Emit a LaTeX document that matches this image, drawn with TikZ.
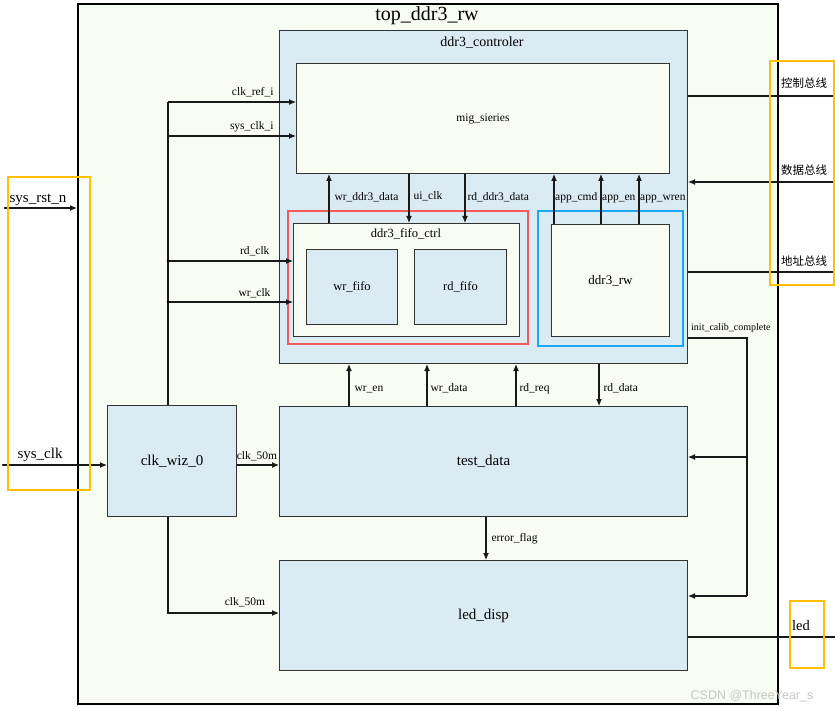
\documentclass[tikz,border=0pt]{standalone}
\usepackage{fontspec}
\setmainfont{Liberation Serif}
\newfontfamily\cjk{Noto Sans CJK SC}
\newfontfamily\wmfont{Liberation Sans}
\usetikzlibrary{arrows.meta}
\definecolor{bgg}{HTML}{F8FDF3}
\definecolor{lblue}{HTML}{DBEBF3}
\definecolor{hred}{HTML}{F55A5A}
\definecolor{hblue}{HTML}{19A9F2}
\definecolor{horange}{HTML}{FFC000}
\definecolor{edge}{HTML}{333333}
\begin{document}
\begin{tikzpicture}[x=1pt,y=-1pt,
  box/.style={draw=edge, line width=1pt, anchor=north west, inner sep=0pt},
  gbox/.style={box, fill=bgg},
  bbox/.style={box, fill=lblue},
  hl/.style={draw=#1, line width=2pt, anchor=north west, inner sep=0pt},
  arr/.style={line width=1.1pt, draw=black!90, -{Latex[length=7pt,width=6pt]}},
  wire/.style={line width=1.1pt, draw=black!90},
  fs/.style={font=\fontsize{11.5}{12}\selectfont},
  fx/.style={font=\fontsize{10}{11}\selectfont},
  fm/.style={font=\fontsize{12.5}{14}\selectfont},
  fl/.style={font=\fontsize{15}{17}\selectfont},
  fc/.style={font=\cjk\fontsize{11.5}{12}\selectfont},
  jdot/.style={circle, fill=black, inner sep=0pt, minimum size=2.8pt}
]
\useasboundingbox (0,0) rectangle (835,711);
\fill[white] (0,0) rectangle (835,711);

% outer module
\node[gbox, draw=black, line width=1.6pt, minimum width=700pt, minimum height=700pt] (outer) at (77,3) {};
\node[font=\fontsize{20}{22}\selectfont] (title) at (427,16) {top\_ddr3\_rw};

% ddr3 controller
\node[bbox, minimum width=408pt, minimum height=333pt] (ctrl) at (279,30) {};
\node[font=\fontsize{14}{16}\selectfont] (ctrllbl) at (482,43) {ddr3\_controler};
\node[gbox, fs, minimum width=373pt, minimum height=110pt] (mig) at (296,63) {mig\_sieries};

% highlight boxes
\node[hl=hred, minimum width=240pt, minimum height=133pt] (redbox) at (287,210) {};
\node[hl=hblue, minimum width=145pt, minimum height=135pt] (bluebox) at (537,210) {};

\node[gbox, minimum width=226pt, minimum height=113pt] (fifoctrl) at (293,223) {};
\node[fm] (fifolbl) at (406,234) {ddr3\_fifo\_ctrl};
\node[bbox, fm, minimum width=91pt, minimum height=75pt] (wrfifo) at (306,249) {wr\_fifo};
\node[bbox, fm, minimum width=92pt, minimum height=75pt] (rdfifo) at (414,249) {rd\_fifo};
\node[gbox, font=\fontsize{13}{15}\selectfont, minimum width=118pt, minimum height=112pt] (ddr3rw) at (551,224) {ddr3\_rw};

% other modules
\node[bbox, fl, minimum width=129pt, minimum height=111pt] (clkwiz) at (107,405) {clk\_wiz\_0};
\node[bbox, fl, minimum width=408pt, minimum height=110pt] (test) at (279,406) {test\_data};
\node[bbox, fl, minimum width=408pt, minimum height=110pt] (led) at (279,560) {led\_disp};

% clock distribution
\coordinate (v1) at (168,102);
\draw[wire] (168,0 |- clkwiz.north) -- (v1);
\draw[arr] (v1) -- (v1 -| mig.west);
\draw[arr] (168,136) -- (168,136 -| mig.west);
\draw[arr] (168,261) -- (168,261 -| fifoctrl.west);
\draw[arr] (168,302) -- (168,302 -| fifoctrl.west);
\node[jdot] (j1) at (168,261) {};
\node[jdot] (j2) at (168,302) {};
\node[fs, anchor=base east] (lclkref) at (277,96) {clk\_ref\_i};
\node[fs, anchor=base east] (lsysclki) at (277,130) {sys\_clk\_i};
\node[fs, anchor=base east] (lrdclk) at (273,255) {rd\_clk};
\node[fs, anchor=base east] (lwrclk) at (274,296) {wr\_clk};

% mig <-> fifo / rw
\draw[arr] (329,0 |- fifoctrl.north) -- (329,0 |- mig.south);
\draw[arr] (409,0 |- mig.south) -- (409,0 |- fifoctrl.north);
\draw[arr] (465,0 |- mig.south) -- (465,0 |- fifoctrl.north);
\draw[arr] (554,0 |- ddr3rw.north) -- (554,0 |- mig.south);
\draw[arr] (601,0 |- ddr3rw.north) -- (601,0 |- mig.south);
\draw[arr] (639,0 |- ddr3rw.north) -- (639,0 |- mig.south);
\node[fs, anchor=base west] (lwrddr) at (331,201) {wr\_ddr3\_data};
\node[fs, anchor=base west] (luiclk) at (410,200) {ui\_clk};
\node[fs, anchor=base west] (lrdddr) at (464,201) {rd\_ddr3\_data};
\node[fs, anchor=base west, inner xsep=0pt] (lappcmd) at (555,201) {app\_cmd};
\node[fs, anchor=base west, inner xsep=0pt] (lappen) at (602,201) {app\_en};
\node[fs, anchor=base west, inner xsep=0pt] (lappwren) at (640,201) {app\_wren};

% test_data <-> controller
\draw[arr] (349,0 |- test.north) -- (349,0 |- ctrl.south);
\draw[arr] (427,0 |- test.north) -- (427,0 |- ctrl.south);
\draw[arr] (516,0 |- test.north) -- (516,0 |- ctrl.south);
\draw[arr] (599,0 |- ctrl.south) -- (599,0 |- test.north);
\node[fs, anchor=base west] (lwren) at (351,391) {wr\_en};
\node[fs, anchor=base west] (lwrdata) at (427,391) {wr\_data};
\node[fs, anchor=base west] (lrdreq) at (516,391) {rd\_req};
\node[fs, anchor=base west] (lrddata) at (600,391) {rd\_data};

\draw[arr] (486,0 |- test.south) -- (486,0 |- led.north);
\node[fs, anchor=base west] (lerr) at (488,541) {error\_flag};

% clk_wiz outputs
\draw[arr] (clkwiz.east |- 0,465) -- (test.west |- 0,465);
\node[fs] (l50a) at (257,456) {clk\_50m};
\draw[arr] (168,0 |- clkwiz.south) -- (168,613) -- (led.west |- 0,613);
\node[fs] (l50b) at (245,602) {clk\_50m};

% init_calib_complete
\coordinate (ic) at (747,338);
\draw[wire] (ctrl.east |- ic) -- (ic) -- (747,596);
\draw[arr] (747,457) -- (test.east |- 0,457);
\draw[arr] (747,596) -- (led.east |- 0,596);
\node[fx, anchor=base west, inner xsep=0pt] (lic) at (691,330) {init\_calib\_complete};

% external ports
\draw[arr] (5,208) -- (outer.west |- 0,208);
\node[jdot, minimum size=2.2pt] (p1) at (5,208) {};
\node[font=\fontsize{15}{17}\selectfont, anchor=base] (lrst) at (38,203) {sys\_rst\_n};
\draw[arr] (3,465) -- (clkwiz.west |- 0,465);
\node[jdot, minimum size=2.2pt] (p2) at (3,465) {};
\node[font=\fontsize{15}{17}\selectfont, anchor=base] (lsysclk) at (40,458) {sys\_clk};

\draw[wire] (ctrl.east |- 0,96) -- (835,96);
\draw[arr] (835,182) -- (ctrl.east |- 0,182);
\draw[wire] (ctrl.east |- 0,272) -- (835,272);
\node[fc] (lctl) at (804,83) {控制总线};
\node[fc] (ldat) at (804,170) {数据总线};
\node[fc] (laddr) at (804,261) {地址总线};

\draw[wire] (led.east |- 0,637) -- (835,637);
\node[font=\fontsize{14.5}{16}\selectfont, anchor=base west, inner xsep=0pt] (lled) at (792,630) {led};

% orange highlights
\node[hl=horange, minimum width=82pt, minimum height=313pt] (orl) at (7,176) {};
\node[hl=horange, minimum width=64pt, minimum height=224pt] (orr) at (769,60) {};
\node[hl=horange, minimum width=34pt, minimum height=67pt] (orled) at (789,600) {};

% watermark
\node[font=\wmfont\fontsize{12.5}{14}\selectfont, text=black!22] (wm) at (752,696) {CSDN @ThreeYear\_s};
\end{tikzpicture}
\end{document}
